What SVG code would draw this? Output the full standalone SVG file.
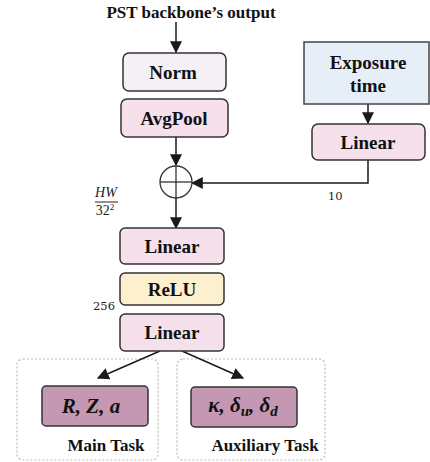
<svg xmlns="http://www.w3.org/2000/svg" width="430" height="462" viewBox="0 0 430 462">
  <defs>
    <marker id="arrowL" viewBox="0 0 10 10" refX="9" refY="5" markerWidth="12" markerHeight="12" orient="auto" markerUnits="userSpaceOnUse">
      <path d="M0,0 L10,5 L0,10 z" fill="#1a1a1a"/>
    </marker>
    <style>
      .box { stroke: #333; stroke-width: 1.5; }
      .lbl { font-family: "Liberation Serif", "Times New Roman", serif; font-weight: bold; font-size: 19px; fill: #111; text-anchor: middle; }
      .math { font-family: "Liberation Serif", "Times New Roman", serif; font-weight: bold; font-style: italic; font-size: 21px; fill: #111; text-anchor: middle; }
      .dim { font-family: "DejaVu Serif", "Liberation Serif", serif; font-size: 11.5px; fill: #222; }
      .frac { font-family: "Liberation Serif", "Times New Roman", serif; font-size: 14px; fill: #222; text-anchor: middle; }
      .wire { stroke: #1a1a1a; stroke-width: 1.5; fill: none; }
      .group { stroke: #bbb; stroke-width: 1.2; stroke-dasharray: 2 2; fill: none; }
    </style>
  </defs>

  <rect width="430" height="462" fill="#fff"/>

  <text class="lbl" x="191" y="18" style="font-size:17px">PST backbone’s output</text>

  <!-- task group frames -->
  <rect class="group" x="17" y="359" width="141" height="101" rx="6"/>
  <rect class="group" x="177" y="359" width="148" height="101" rx="6"/>

  <!-- connectors -->
  <g id="connectors">
    <line class="wire" x1="176" y1="22" x2="176" y2="52" marker-end="url(#arrowL)"/>
    <line class="wire" x1="176" y1="137" x2="176" y2="165" marker-end="url(#arrowL)"/>
    <line class="wire" x1="176" y1="198" x2="176" y2="228" marker-end="url(#arrowL)"/>
    <line class="wire" x1="368" y1="104" x2="368" y2="123" marker-end="url(#arrowL)"/>
    <polyline class="wire" points="368,160 368,183 192,183" marker-end="url(#arrowL)"/>
    <line class="wire" x1="160" y1="351" x2="98" y2="378" marker-end="url(#arrowL)"/>
    <line class="wire" x1="182" y1="351" x2="243" y2="378" marker-end="url(#arrowL)"/>
  </g>

  <g id="norm">
    <rect class="box" x="123" y="53" width="103" height="38" rx="6" fill="#f5f0f6"/>
    <text class="lbl" x="173" y="79">Norm</text>
  </g>

  <g id="avgpool">
    <rect class="box" x="121" y="99" width="107" height="38" rx="6" fill="#f5e0ec"/>
    <text class="lbl" x="174" y="125">AvgPool</text>
  </g>

  <g id="exposure">
    <rect x="304" y="42" width="125" height="62" fill="#e6eef8" stroke="#444" stroke-width="1.5"/>
    <text class="lbl" x="368" y="69">Exposure</text>
    <text class="lbl" x="368" y="92">time</text>
  </g>

  <g id="linear-exp">
    <rect class="box" x="312" y="124" width="113" height="36" rx="6" fill="#f5e0ec"/>
    <text class="lbl" x="368" y="149">Linear</text>
  </g>

  <g id="sum">
    <circle cx="176" cy="182" r="16" fill="#fff" stroke="#333" stroke-width="1.3"/>
    <line x1="160" y1="182" x2="192" y2="182" stroke="#333" stroke-width="1.3"/>
    <line x1="176" y1="166" x2="176" y2="198" stroke="#333" stroke-width="1.3"/>
  </g>

  <!-- spatial size annotation -->
  <g id="hw-note">
    <text class="frac" x="106" y="197" font-style="italic">HW</text>
    <line x1="95" y1="202" x2="118" y2="202" stroke="#222" stroke-width="1"/>
    <text class="frac" x="105" y="215">32<tspan font-size="9" dy="-5">2</tspan></text>
  </g>

  <g id="linear1">
    <rect class="box" x="120" y="228" width="104" height="36" rx="5" fill="#f5e0ec"/>
    <text class="lbl" x="172" y="253">Linear</text>
  </g>

  <g id="relu">
    <rect class="box" x="120" y="273" width="104" height="32" rx="5" fill="#fdf0cf"/>
    <text class="lbl" x="172" y="296">ReLU</text>
  </g>

  <g id="linear2">
    <rect class="box" x="120" y="314" width="104" height="37" rx="5" fill="#f5e0ec"/>
    <text class="lbl" x="172" y="339">Linear</text>
  </g>

  <text class="dim" x="93" y="310">256</text>
  <text class="dim" x="328" y="200">10</text>

  <g id="main-out">
    <rect class="box" x="42" y="386" width="106" height="40" rx="4" fill="#c497b3"/>
    <text class="math" x="91" y="413">R, Z, a</text>
  </g>

  <g id="aux-out">
    <rect class="box" x="191" y="387" width="106" height="40" rx="4" fill="#c497b3"/>
    <text class="math" x="243" y="412">κ, δ<tspan font-size="15" dy="4">u</tspan><tspan dy="-4">, δ</tspan><tspan font-size="15" dy="4">d</tspan></text>
  </g>

  <text class="lbl" x="106" y="451" style="font-size:17px">Main Task</text>
  <text class="lbl" x="265" y="451" style="font-size:17px">Auxiliary Task</text>
</svg>
